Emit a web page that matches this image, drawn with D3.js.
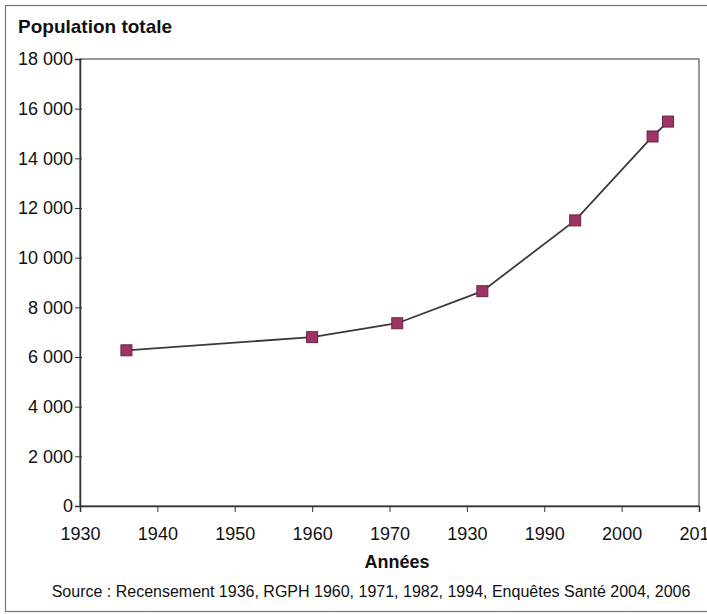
<!DOCTYPE html>
<html>
<head>
<meta charset="utf-8">
<script src="https://cdn.jsdelivr.net/npm/d3@7/dist/d3.min.js"></script>
<style>
body{margin:0;background:#fff;}
svg{display:block;font-family:"Liberation Sans",Arial,sans-serif;}
</style>
</head>
<body>
<div id="chart"></div>
<script>
const years = [1936, 1960, 1971, 1982, 1994, 2004, 2006];
const population = [6270, 6800, 7360, 8650, 11500, 14880, 15480];
const xTickValues = [1930, 1940, 1950, 1960, 1970, 1980, 1990, 2000, 2010];
const xTickLabels = ["1930", "1940", "1950", "1960", "1970", "1930", "1990", "2000", "2010"];
const yTickValues = [0, 2000, 4000, 6000, 8000, 10000, 12000, 14000, 16000, 18000];

const W = 707, H = 614;
const m = {left: 80, right: 8, top: 59, bottom: 108};
const svg = d3.select("#chart").append("svg").attr("width", W).attr("height", H);

// outer frame
svg.append("rect").attr("x", 5.5).attr("y", 5.5).attr("width", W + 10).attr("height", 606)
  .attr("fill", "none").attr("stroke", "#777").attr("stroke-width", 1.2);

const x = d3.scaleLinear().domain([1930, 2010]).range([m.left, W - m.right]);
const y = d3.scaleLinear().domain([0, 18000]).range([H - m.bottom, m.top]);

// plot border
svg.append("rect").attr("x", x(1930)).attr("y", y(18000))
  .attr("width", x(2010) - x(1930)).attr("height", y(0) - y(18000))
  .attr("fill", "none").attr("stroke", "#555").attr("stroke-width", 1.2);

const fmt = v => v === 0 ? "0" : d3.format(",")(v).replace(",", " ");

const yAxis = svg.append("g").attr("transform", `translate(${x(1930)},0)`)
  .call(d3.axisLeft(y).tickValues(yTickValues).tickSize(5).tickPadding(2).tickFormat(fmt));
yAxis.select(".domain").attr("stroke", "#333").attr("stroke-width", 1.5);
yAxis.selectAll(".tick line").attr("stroke", "#333").attr("x2", -5).attr("x1", 2);
yAxis.selectAll("text").attr("font-size", 18).attr("fill", "#111").attr("font-family", "Liberation Sans, Arial, sans-serif");

const xAxis = svg.append("g").attr("transform", `translate(0,${y(0)})`)
  .call(d3.axisBottom(x).tickValues(xTickValues).tickSize(6).tickPadding(15)
    .tickFormat((d, i) => xTickLabels[i]));
xAxis.select(".domain").attr("stroke", "#333").attr("stroke-width", 1.5);
xAxis.selectAll(".tick line").attr("stroke", "#333");
xAxis.selectAll("text").attr("font-size", 18).attr("fill", "#111").attr("font-family", "Liberation Sans, Arial, sans-serif");

const data = years.map((yr, i) => ({yr, v: population[i]}));
svg.append("path").datum(data)
  .attr("d", d3.line().x(d => x(d.yr)).y(d => y(d.v)))
  .attr("fill", "none").attr("stroke", "#3a3a3a").attr("stroke-width", 1.8);

const s = 11;
svg.selectAll("rect.pt").data(data).enter().append("rect").attr("class", "pt")
  .attr("x", d => x(d.yr) - s / 2).attr("y", d => y(d.v) - s / 2)
  .attr("width", s).attr("height", s)
  .attr("fill", "#9c3565").attr("stroke", "#6e2245").attr("stroke-width", 1);

svg.append("text").attr("x", 18).attr("y", 33).attr("font-size", 19).attr("font-weight", "bold")
  .attr("fill", "#111").text("Population totale");
svg.append("text").attr("x", 397).attr("y", 568).attr("text-anchor", "middle")
  .attr("font-size", 18).attr("font-weight", "bold").attr("fill", "#111").text("Années");
svg.append("text").attr("x", 371).attr("y", 597).attr("text-anchor", "middle")
  .attr("font-size", 16).attr("fill", "#111")
  .text("Source : Recensement 1936, RGPH 1960, 1971, 1982, 1994,  Enquêtes Santé 2004, 2006");
</script>
</body>
</html>
